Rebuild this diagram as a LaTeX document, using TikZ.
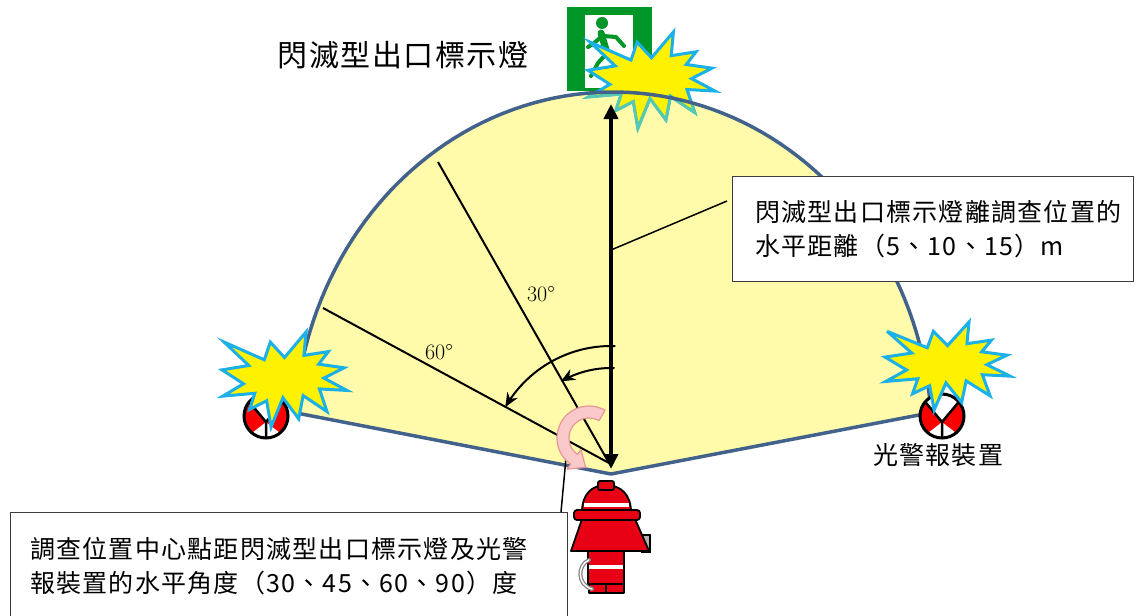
\documentclass[tikz,border=0pt]{standalone}
\usepackage{fontspec}
\newfontfamily\cjk[LetterSpace=5]{Noto Sans CJK TC}
\usetikzlibrary{arrows.meta}

\definecolor{fanfill}{RGB}{255,251,170}
\definecolor{fanedge}{RGB}{66,98,140}
\definecolor{burstblue}{RGB}{28,176,232}
\definecolor{burstteal}{RGB}{84,200,178}
\definecolor{exitgreen}{RGB}{0,150,40}
\definecolor{alarmred}{RGB}{250,0,0}
\definecolor{suitred}{RGB}{232,0,20}
\definecolor{pinkfill}{RGB}{250,202,202}
\definecolor{pinkedge}{RGB}{232,150,150}
\definecolor{boxedge}{RGB}{60,60,60}

% irregular explosion outline, placed in the box (#1,#2) with size #3 x #4
\newcommand\burstpoly[5]{%
  \begin{scope}[shift={(#1,#2)},xscale=#3/216,yscale=#4/216]
    \path[#5] (108,58) -- (145.22,0) -- (141.55,53.25) -- (183.8,44.57)
      -- (167.02,73.15) -- (210.97,81.37) -- (176.07,104.75) -- (216,132.9)
      -- (168.37,129.42) -- (181.45,180.95) -- (140.2,144.57) -- (132.47,197.37)
      -- (105.32,149.35) -- (84.85,216) -- (77.15,156.27) -- (47.62,176.17)
      -- (56.67,139.37) -- (1.35,145.87) -- (37.22,117.75) -- (0,86.15)
      -- (46.27,76.17) -- (3.7,22.95) -- (73.12,63.2) -- (83.52,22.95) -- cycle;
  \end{scope}}

% warning light: circle crossed by an X, red side wedges
\newcommand\alarmlamp[2]{%
  \begin{scope}[shift={(#1,#2)}]
    \fill[white] (0,0) circle[radius=22pt];
    \fill[alarmred] (0,6) -- (140:22pt) arc[start angle=140,end angle=230,radius=22pt] -- cycle;
    \fill[alarmred] (0,6) -- (-50:22pt) arc[start angle=-50,end angle=40,radius=22pt] -- cycle;
    \draw[line width=2.5pt] (40:22pt) -- (0,6) -- (140:22pt) (0,6) -- (0,22);
    \draw[line width=3pt] (0,0) circle[radius=22pt];
  \end{scope}}

\tikzset{
  burst/.style={fill=yellow, draw=burstblue, line width=3pt, miter limit=6},
  ray/.style={line width=2pt, black},
  anglearrow/.style={line width=2pt, -{Stealth[length=14pt,width=12pt]}},
  leader/.style={line width=1.5pt, black},
  infobox/.style={draw=boxedge, line width=1.3pt, fill=white, inner sep=0pt},
  cjktext/.style={inner sep=0pt, align=left, font=\cjk\fontsize{25}{34}\selectfont},
  degtext/.style={inner sep=0pt, font=\fontsize{22}{26}\selectfont},
  suit/.style={fill=suitred, draw=black, line width=1.8pt, line join=round},
}

\begin{document}
\begin{tikzpicture}[x=1pt,y=-1pt]
\useasboundingbox (0,0) rectangle (1139,615);

% ---- emergency exit sign ----
\fill[exitgreen] (567,7) rectangle (652,91);
\fill[white] (585,15) rectangle (633,88);
\fill[exitgreen] (602,23) circle[radius=6pt];
\draw[exitgreen, line width=7pt, line cap=round] (601,33) -- (607,53);
\draw[exitgreen, line width=4pt, line cap=round, line join=round]
  (604,36) -- (616,37) -- (624,46)
  (601,37) -- (593,44) -- (588,47)
  (607,53) -- (617,61) -- (620,72)
  (607,53) -- (598,63) -- (591,76);

% ---- lit area ----
\fill[fanfill] (611,474) -- (295,412.7)
  -- plot[domain=175.5:4.5,samples=90] ({613+319*cos(\x)},{440-348*sin(\x)}) -- cycle;

\burstpoly{588}{32}{127}{96}{burst}
\begin{scope}
  \clip (611,474) -- (295,412.7)
    -- plot[domain=175.5:4.5,samples=90] ({613+319*cos(\x)},{440-348*sin(\x)}) -- cycle;
  \burstpoly{588}{32}{127}{96}{burst, draw=burstteal}
\end{scope}

\draw[fanedge, line width=3.5pt, line join=round] (611,474) -- (295,412.7)
  -- plot[domain=175.5:4.5,samples=90] ({613+319*cos(\x)},{440-348*sin(\x)}) -- cycle;

% ---- angle rays and distance arrow ----
\coordinate (V) at (609,463);
\coordinate (ray30) at (438,162);
\coordinate (ray60) at (323,308);
\coordinate (arrbot) at (611,469);
\coordinate (arrtop) at (611,104);
\draw[ray] (V) -- (ray30);
\draw[ray] (V) -- (ray60);
\draw[line width=4pt, {Triangle[length=15pt,width=14pt]}-{Triangle[length=15pt,width=14pt]}] (arrbot) -- (arrtop);

\draw[anglearrow] plot[domain=88:150,samples=40,smooth] ({611+122*cos(\x)},{468-122*sin(\x)});
\draw[anglearrow] plot[domain=88:120,samples=30,smooth] ({611+100*cos(\x)},{468-100*sin(\x)});

\node[degtext] (lab30) at (541,294) {30°};
\node[degtext] (lab60) at (439,352) {60°};

% ---- callout boxes ----
\node[infobox, anchor=north west, minimum width=401pt, minimum height=105pt] (distbox) at (732,176) {};
\node[cjktext, anchor=west] (disttext) at ([xshift=23pt]distbox.west)
  {閃滅型出口標示燈離調查位置的\\水平距離（5、10、15）m};
\coordinate (distfoot) at (611,250);
\coordinate (disttip) at (727,201);
\draw[leader] (distfoot) -- (disttip);

\node[infobox, anchor=north west, minimum width=557pt, minimum height=107pt] (anglebox) at (10,512) {};
\node[cjktext, anchor=west] (angletext) at ([xshift=20pt]anglebox.west)
  {調查位置中心點距閃滅型出口標示燈及光警\\報裝置的水平角度（30、45、60、90）度};
\coordinate (anglefoot) at (561,512);
\coordinate (angletip) at (567,447);
\draw[leader] (anglefoot) -- (angletip);

% ---- turning arrow at the survey point ----
\draw[fill=pinkfill, draw=pinkedge, line width=1.2pt, line join=round]
  plot[domain=60:235,samples=40] ({589+32*cos(\x)},{438-32*sin(\x)})
  -- (567.2,469.1) -- (585.6,467.3) -- (581,449.5)
  -- plot[domain=235:60,samples=40] ({589+20*cos(\x)},{438-20*sin(\x)}) -- cycle;

% ---- warning lights ----
\alarmlamp{266}{416}
\alarmlamp{942}{416}
\burstpoly{222}{332}{125}{95}{burst}
\burstpoly{885}{322}{125}{88}{burst}

% ---- firefighter ----
\draw[suit] (588,550) rectangle (624,586);
\fill[white] (589,565) rectangle (623,569);
\draw[suit] (589,584) rectangle (606,593);
\draw[suit] (606,584) rectangle (624,593);
\draw[gray, line width=4pt, line cap=round] (589,560) .. controls (577,565) and (577,585) .. (592,589);
\draw[white, line width=1.5pt, line cap=round] (589,560) .. controls (577,565) and (577,585) .. (592,589);
\draw[fill=gray!60, draw=black, line width=1.2pt] (642,535) rectangle (650,552);
\draw[suit] (582,519) -- (571,551) -- (649,551) -- (635,519) -- cycle;
\draw[suit] (582,512) .. controls (582,494) and (592,485) .. (606,485)
  .. controls (620,485) and (631,494) .. (631,512) -- cycle;
\draw[suit, rounded corners=2pt] (598,490) rectangle (614,481);
\fill[white] (584,503) rectangle (629,507);
\draw[suit, rounded corners=3pt] (574,510) rectangle (640,520);

% ---- labels ----
\node[inner sep=0pt, font=\cjk\fontsize{30}{36}\selectfont] (title) at (403,55) {閃滅型出口標示燈};
\node[cjktext] (alarmlabel) at (938,455) {光警報裝置};
\end{tikzpicture}
\end{document}
